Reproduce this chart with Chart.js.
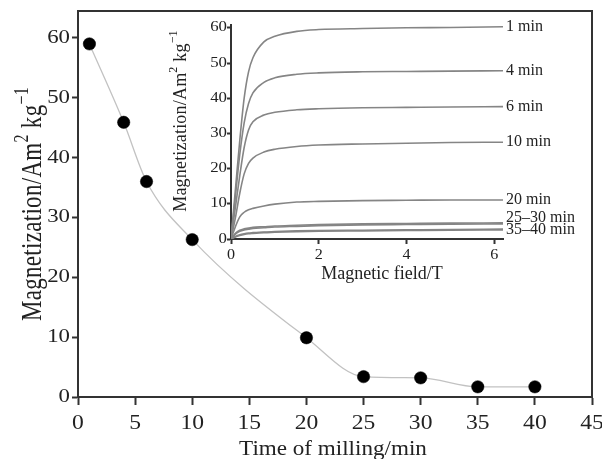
<!DOCTYPE html>
<html lang="en">
<head>
<meta charset="UTF-8">
<title>Magnetization vs milling time</title>
<script src="https://cdn.jsdelivr.net/npm/chart.js"></script>
<style>
  body { margin: 0; background: #fff; }
  #wrap { position: relative; width: 602px; height: 459px; }
  #mainChart { position: absolute; left: 0; top: 0; }
  #insetChart { position: absolute; left: 150px; top: 10px; }
</style>
</head>
<body>
<div id="wrap">
  <canvas id="mainChart" width="602" height="459"></canvas>
  <canvas id="insetChart" width="440" height="285"></canvas>
</div>
<script>
// main plot: saturation magnetization vs milling time
const millTime = [1, 4, 6, 10, 20, 25, 30, 35, 40];
const magnetization = [59, 45.9, 36, 26.3, 9.9, 3.4, 3.2, 1.7, 1.7];
const timeTicks = [0, 5, 10, 15, 20, 25, 30, 35, 40, 45];
const magTicks = [0, 10, 20, 30, 40, 50, 60];

// inset: M(H) curves for each milling time
const fieldT = [0, 0.1, 0.2, 0.3, 0.4, 0.5, 0.75, 1, 1.5, 2, 3, 4, 5, 6.2];
const m1 = [0, 14, 28, 40, 47.5, 51.5, 56, 57.6, 59, 59.5, 59.8, 60, 60.1, 60.3];
const m4 = [0, 12, 24, 33, 38.5, 41.5, 44.5, 45.8, 46.8, 47.2, 47.5, 47.6, 47.7, 47.8];
const m6 = [0, 9, 18, 26, 31, 33.3, 35.2, 36, 36.7, 37, 37.3, 37.4, 37.5, 37.6];
const m10 = [0, 6, 13, 18.5, 21.5, 23, 24.7, 25.5, 26.3, 26.7, 27, 27.2, 27.4, 27.5];
const m20 = [0, 3.5, 6.3, 7.6, 8.3, 8.7, 9.4, 9.9, 10.5, 10.7, 10.9, 11, 11.1, 11.1];
const m25 = [0, 1.6, 2.5, 2.9, 3.1, 3.3, 3.5, 3.7, 3.9, 4.1, 4.3, 4.4, 4.5, 4.6];
const m30 = [0, 1.4, 2.2, 2.6, 2.8, 3.0, 3.2, 3.4, 3.6, 3.8, 4.0, 4.1, 4.2, 4.3];
const m35 = [0, 0.7, 1.2, 1.5, 1.7, 1.8, 2.0, 2.1, 2.3, 2.4, 2.5, 2.6, 2.7, 2.8];
const m40 = [0, 0.6, 1.0, 1.3, 1.5, 1.6, 1.8, 1.9, 2.1, 2.2, 2.3, 2.4, 2.5, 2.6];
const fieldTicks = [0, 2, 4, 6];
const insetMagTicks = [0, 10, 20, 30, 40, 50, 60];
const curveLabels = ['1 min', '4 min', '6 min', '10 min', '20 min', '25\u201330 min', '35\u201340 min'];
const curveLabelAt = [60.2, 47.8, 37.6, 27.5, 11.1, 6.0, 2.5];

const SERIF = '"Liberation Serif", "DejaVu Serif", serif';
const INK = '#333';

// draws text with optional superscript parts, stretched by sx/sy
function drawRich(ctx, parts, x, y, size, opt) {
    opt = opt || {};
    ctx.save();
    ctx.translate(x, y);
    if (opt.rot) ctx.rotate(opt.rot);
    ctx.scale(opt.sx || 1, opt.sy || 1);
    ctx.letterSpacing = (opt.ls || 0) + 'px';
    ctx.fillStyle = '#222';
    ctx.textBaseline = opt.base || 'alphabetic';
    ctx.textAlign = 'left';
    const fontOf = p => (p.sup ? Math.round(size * 0.68) : size) + 'px ' + SERIF;
    let w = 0;
    parts.forEach(p => { ctx.font = fontOf(p); w += ctx.measureText(p.t).width; });
    let cx = opt.align === 'right' ? -w : (opt.align === 'left' ? 0 : -w / 2);
    parts.forEach(p => {
        ctx.font = fontOf(p);
        ctx.fillText(p.t, cx, p.sup ? -size * 0.45 : 0);
        cx += ctx.measureText(p.t).width;
    });
    ctx.restore();
}

const magTitle = [{t: 'Magnetization/Am'}, {t: '2', sup: true}, {t: ' kg'}, {t: '\u22121', sup: true}];

function axisStyle(len) {
    return {
        grid: { drawOnChartArea: false, drawTicks: true, tickLength: len, tickColor: INK, tickWidth: 2 },
        border: { color: INK, width: 2 },
        ticks: { display: false }
    };
}

const mainText = {
    id: 'mainText',
    afterDraw(chart) {
        const ctx = chart.ctx;
        const a = chart.chartArea;
        ctx.save();
        ctx.strokeStyle = INK;
        ctx.lineWidth = 2;
        ctx.beginPath();
        ctx.moveTo(a.left, a.top);
        ctx.lineTo(a.right, a.top);
        ctx.lineTo(a.right, a.bottom);
        ctx.stroke();
        ctx.restore();

        const xs = chart.scales.x, ys = chart.scales.y;
        xs.ticks.forEach(t => {
            drawRich(ctx, [{t: String(t.value)}], xs.getPixelForValue(t.value), 424, 20, {sx: 1.18, base: 'middle'});
        });
        ys.ticks.forEach(t => {
            drawRich(ctx, [{t: String(t.value)}], 70, ys.getPixelForValue(t.value), 19, {sx: 1.2, base: 'middle', align: 'right'});
        });
        drawRich(ctx, [{t: 'Time of milling/min'}], 333, 455, 21, {sx: 1.1});
        drawRich(ctx, magTitle, 41, 204, 23, {rot: -Math.PI / 2, sy: 1.28, ls: 0.3});
    }
};

new Chart(document.getElementById('mainChart'), {
    type: 'line',
    data: {
        datasets: [{
            data: millTime.map((t, i) => ({x: t, y: magnetization[i]})),
            borderColor: '#c2c2c2',
            borderWidth: 1.3,
            cubicInterpolationMode: 'monotone',
            pointRadius: 6.2,
            pointBackgroundColor: '#000',
            pointBorderColor: '#000',
            pointBorderWidth: 0.5
        }]
    },
    options: {
        responsive: false,
        animation: false,
        layout: { padding: { left: 0, right: 10, top: 11, bottom: 0 } },
        plugins: { legend: { display: false }, tooltip: { enabled: false } },
        scales: {
            x: Object.assign({
                type: 'linear', min: 0, max: 45,
                afterBuildTicks: s => { s.ticks = timeTicks.map(v => ({value: v})); },
                afterFit: s => { s.height = 62; }
            }, axisStyle(8)),
            y: Object.assign({
                type: 'linear', min: 0, max: 64.5,
                afterBuildTicks: s => { s.ticks = magTicks.map(v => ({value: v})); },
                afterFit: s => { s.width = 78; }
            }, axisStyle(6))
        }
    },
    plugins: [mainText]
});

const insetText = {
    id: 'insetText',
    afterDraw(chart) {
        const ctx = chart.ctx;
        const xs = chart.scales.x, ys = chart.scales.y;
        xs.ticks.forEach(t => {
            drawRich(ctx, [{t: String(t.value)}], xs.getPixelForValue(t.value), 245, 14, {sx: 1.15, base: 'middle'});
        });
        ys.ticks.forEach(t => {
            drawRich(ctx, [{t: String(t.value)}], 77, ys.getPixelForValue(t.value), 14, {sx: 1.2, base: 'middle', align: 'right'});
        });
        const lx = xs.getPixelForValue(fieldT[fieldT.length - 1]) + 3;
        curveLabels.forEach((txt, i) => {
            drawRich(ctx, [{t: txt}], lx, ys.getPixelForValue(curveLabelAt[i]), 16, {base: 'middle', align: 'left'});
        });
        drawRich(ctx, [{t: 'Magnetic field/T'}], 232, 269, 18, {});
        drawRich(ctx, magTitle, 36, 111, 18, {rot: -Math.PI / 2, sy: 1.1, ls: 0.2});
    }
};

const insetSeries = [m1, m4, m6, m10, m20, m25, m30, m35, m40];

new Chart(document.getElementById('insetChart'), {
    type: 'line',
    data: {
        datasets: insetSeries.map(s => ({
            data: fieldT.map((h, i) => ({x: h, y: s[i]})),
            borderColor: '#858585',
            borderWidth: 1.6,
            pointRadius: 0,
            cubicInterpolationMode: 'monotone'
        }))
    },
    options: {
        responsive: false,
        animation: false,
        layout: { padding: { left: 0, right: 87, top: 15, bottom: 0 } },
        plugins: { legend: { display: false }, tooltip: { enabled: false } },
        scales: {
            x: Object.assign({
                type: 'linear', min: 0, max: 6.2,
                afterBuildTicks: s => { s.ticks = fieldTicks.map(v => ({value: v})); },
                afterFit: s => { s.height = 56; }
            }, axisStyle(5)),
            y: Object.assign({
                type: 'linear', min: 0, max: 60.8,
                afterBuildTicks: s => { s.ticks = insetMagTicks.map(v => ({value: v})); },
                afterFit: s => { s.width = 81; }
            }, axisStyle(4))
        }
    },
    plugins: [insetText]
});
</script>
</body>
</html>
